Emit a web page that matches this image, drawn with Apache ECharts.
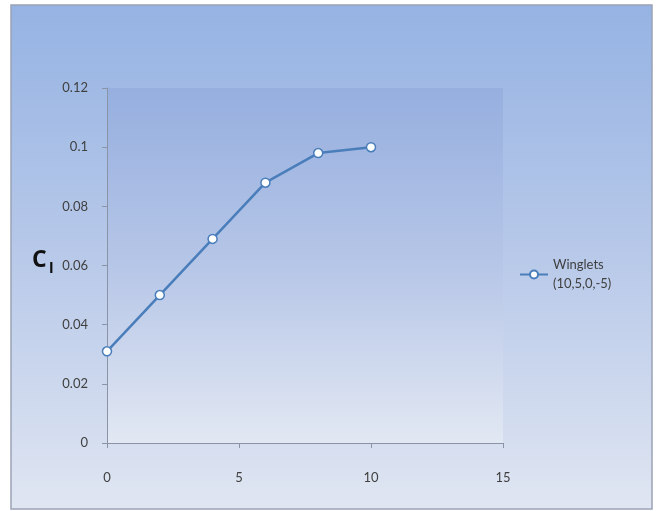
<!DOCTYPE html>
<html>
<head>
<meta charset="utf-8">
<script src="https://cdn.jsdelivr.net/npm/echarts@6/dist/echarts.min.js"></script>
<style>
  html, body { margin: 0; padding: 0; background: #ffffff; }
  #chart { width: 660px; height: 511px; }
</style>
</head>
<body>
<div id="chart"></div>
<script>
// Lift coefficient vs. angle of attack for the winglet configuration
const angles = [0, 2, 4, 6, 8, 10];
const clValues = [0.031, 0.050, 0.069, 0.088, 0.098, 0.100];
const seriesName = 'Winglets\n(10,5,0,-5)';
const xTicks = { min: 0, max: 15, interval: 5 };
const yTicks = { min: 0, max: 0.12, interval: 0.02 };

const chart = echarts.init(document.getElementById('chart'));
const fontFamily = 'Lato, Open Sans, Liberation Sans, sans-serif';
const titleFont = 'Open Sans, DejaVu Sans, sans-serif';
const lineBlue = '#4a7ebb';

chart.setOption({
  animation: false,
  backgroundColor: '#ffffff',
  graphic: [
    {
      type: 'rect',
      z: -10,
      shape: { x: 11, y: 5, width: 641, height: 504 },
      style: {
        fill: new echarts.graphic.LinearGradient(0, 0, 0, 1, [
          { offset: 0, color: '#95b3e3' },
          { offset: 0.5, color: '#b8c9e9' },
          { offset: 1, color: '#e0e6f2' }
        ]),
        stroke: '#9aa3b5',
        lineWidth: 1.5
      }
    },
    {
      type: 'text',
      left: 32,
      top: 249,
      style: { text: 'C', fontSize: 23, fontWeight: 'bold', fill: '#111111', fontFamily: titleFont }
    },
    {
      type: 'text',
      left: 49,
      top: 261,
      style: { text: 'l', fontSize: 15, fontWeight: 'bold', fill: '#111111', fontFamily: titleFont }
    }
  ],
  grid: {
    left: 107, right: 157, top: 88, bottom: 68,
    show: true,
    borderWidth: 0,
    backgroundColor: new echarts.graphic.LinearGradient(0, 0, 0, 1, [
      { offset: 0, color: '#96afdf' },
      { offset: 0.5, color: '#b6c6e7' },
      { offset: 1, color: '#e2e8f3' }
    ])
  },
  legend: {
    left: 514,
    top: 241,
    orient: 'vertical',
    itemWidth: 28,
    itemHeight: 10,
    textStyle: {
      color: '#404040', fontSize: 13, fontFamily: fontFamily, lineHeight: 19,
      padding: [19, 0, 0, 0]
    },
    data: [seriesName]
  },
  xAxis: {
    type: 'value',
    min: xTicks.min, max: xTicks.max, interval: xTicks.interval,
    axisLine: { show: true, lineStyle: { color: '#8a94a6', width: 1 } },
    axisTick: { show: true, length: 5, inside: false, lineStyle: { color: '#8a94a6' } },
    splitLine: { show: false },
    axisLabel: { color: '#404040', fontSize: 13, fontFamily: fontFamily, margin: 28 }
  },
  yAxis: {
    type: 'value',
    min: yTicks.min, max: yTicks.max, interval: yTicks.interval,
    axisLine: { show: true, onZero: false, lineStyle: { color: '#8a94a6', width: 1 } },
    axisTick: { show: true, length: 5, lineStyle: { color: '#8a94a6' } },
    splitLine: { show: false },
    axisLabel: {
      color: '#404040', fontSize: 13, fontFamily: fontFamily, margin: 19,
      formatter: v => (Math.round(v * 100) / 100).toString()
    }
  },
  series: [{
    name: seriesName,
    type: 'line',
    data: angles.map((a, i) => [a, clValues[i]]),
    symbol: 'circle',
    symbolSize: 9,
    lineStyle: { color: lineBlue, width: 2.5 },
    itemStyle: { color: '#ffffff', borderColor: lineBlue, borderWidth: 1.5 }
  }]
});
</script>
</body>
</html>
